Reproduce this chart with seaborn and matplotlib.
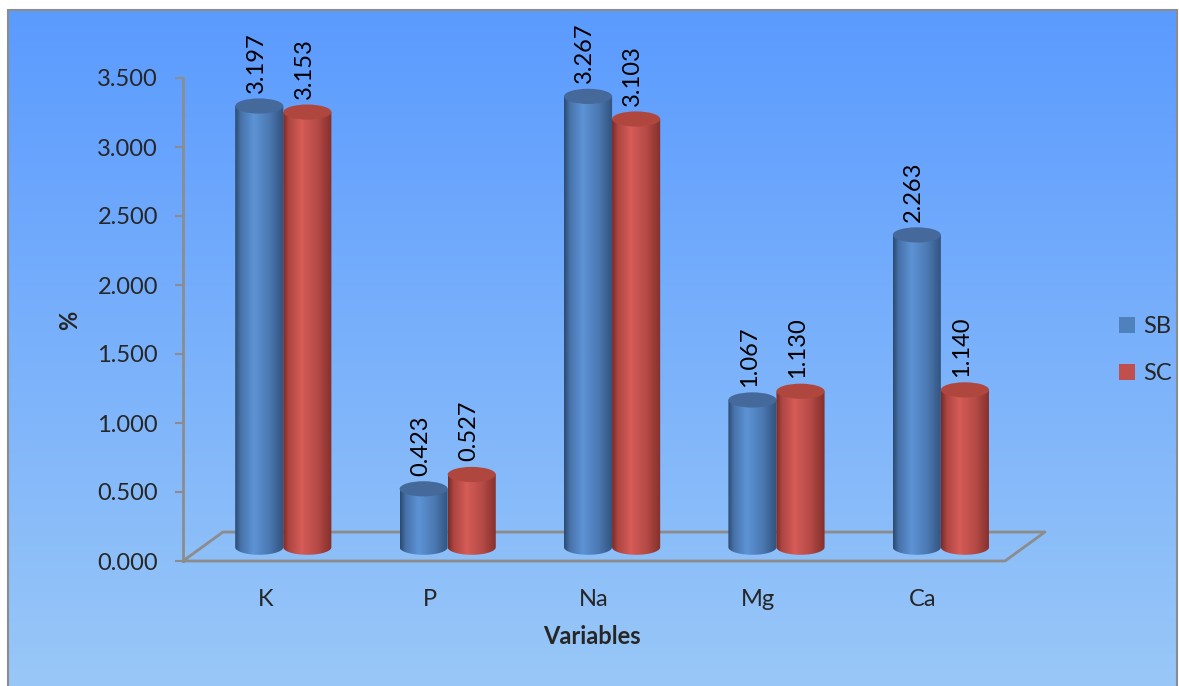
import numpy as np
import pandas as pd
import matplotlib
matplotlib.use('Agg')
import matplotlib.pyplot as plt
import seaborn as sns
from matplotlib.patches import Ellipse, PathPatch, Rectangle, Patch
from matplotlib.path import Path

# Data
categories = ['K', 'P', 'Na', 'Mg', 'Ca']
series = ['SB', 'SC']
sb_values = [3.197, 0.423, 3.267, 1.067, 2.263]
sc_values = [3.153, 0.527, 3.103, 1.130, 1.140]
y_ticks = [0.0, 0.5, 1.0, 1.5, 2.0, 2.5, 3.0, 3.5]

df = pd.DataFrame({
    'Variables': categories * 2,
    'value': sb_values + sc_values,
    'Series': ['SB'] * len(categories) + ['SC'] * len(categories),
})

base_colors = {'SB': '#4F81BD', 'SC': '#C0504D'}
# dark / light / top colours for the cylinder shading
shade = {
    'SB': ('#2c4a72', '#5d93d6', '#44699a'),
    'SC': ('#7a2a27', '#d65c57', '#b0473f'),
}

sns.set_style('white')
plt.rcParams['font.family'] = ['Lato', 'DejaVu Sans']
FS = 17

fig = plt.figure(figsize=(11.79, 6.86), dpi=100)
fig.patch.set_facecolor('white')

# chart area gradient background
bg = fig.add_axes([0, 0, 1, 1], zorder=-10)
g = np.linspace(0, 1, 256)[:, None, None]
top_c = np.array([0x5b, 0x9b, 0xff]) / 255
bot_c = np.array([0x9a, 0xc8, 0xf7]) / 255
img = top_c * (1 - g) + bot_c * g
x0, x1 = 8 / 1179, 1177 / 1179
y1 = 1 - 10 / 686
bg.imshow(img, aspect='auto', extent=[x0, x1, -0.02, y1], origin='upper')
bg.add_patch(Rectangle((x0, -0.02), x1 - x0, y1 + 0.02, fill=False,
                       edgecolor='#8c8c8c', lw=1.5))
bg.set_xlim(0, 1)
bg.set_ylim(0, 1)
bg.axis('off')

ax = fig.add_axes([183 / 1179, 125 / 686, 822 / 1179, 483 / 686])
ax.patch.set_alpha(0)

sns.barplot(data=df, x='Variables', y='value', hue='Series',
            palette=base_colors, width=0.585, gap=0, saturation=1,
            linewidth=0, legend=False, ax=ax)

# 3D-ish offsets (depth)
dx, dy = 0.11, 0.1
eh = 0.11  # ellipse height in data units
ddx, ddy = 0.243, 0.21

# floor parallelogram
floor_c = '#8c8c8c'
fx = [-0.5, 4.5, 4.5 + ddx, -0.5 + ddx, -0.5]
fy = [0, 0, ddy, ddy, 0]
ax.plot(fx, fy, color=floor_c, lw=2, zorder=1, clip_on=False)

t = np.linspace(0, 1, 200)
mix = np.interp(t, [0, 0.12, 0.38, 0.7, 1.0], [0.0, 0.55, 1.0, 0.65, 0.1])

bars = ax.patches[:]
n = len(categories)
for i, p in enumerate(bars):
    s = series[i // n]
    cat = i % n
    val = p.get_height()
    xl = p.get_x() + dx
    w = p.get_width()
    base = dy
    top = base + val
    p.set_visible(False)
    z = 3 + cat * 4 + (i // n) * 2

    dark = np.array(matplotlib.colors.to_rgb(shade[s][0]))
    light = np.array(matplotlib.colors.to_rgb(shade[s][1]))
    row = dark + (light - dark) * mix[:, None]
    grad = row[None, :, :]

    th = np.linspace(np.pi, 2 * np.pi, 60)
    ex = xl + w / 2 + (w / 2) * np.cos(th)
    ey = base + (eh / 2) * np.sin(th)
    verts = [(xl, top)] + list(zip(ex, ey)) + [(xl + w, top), (xl, top)]
    codes = [Path.MOVETO] + [Path.LINETO] * (len(verts) - 2) + [Path.CLOSEPOLY]
    body = PathPatch(Path(verts, codes), transform=ax.transData,
                     facecolor='none', edgecolor='none')
    im = ax.imshow(grad, aspect='auto', extent=[xl, xl + w, base - eh, top],
                   zorder=z, interpolation='bilinear')
    im.set_clip_path(body)

    ax.add_patch(Ellipse((xl + w / 2, top), w, eh, facecolor=shade[s][2],
                         edgecolor='none', zorder=z + 1))

    ax.text(xl + w / 2 - 0.02, top + eh / 2 + 0.04, f'{val:.3f}',
            rotation=90, ha='center', va='bottom', fontsize=FS,
            color='black', zorder=30, clip_on=False)

ax.set_xlim(-0.5, 4.5)
ax.set_ylim(0, 3.5)
ax.set_yticks(y_ticks)
ax.set_yticklabels([f'{v:.3f}' for v in y_ticks], fontsize=FS)
ax.set_xticks(range(n))
ax.set_xticklabels(categories, fontsize=FS)
ax.tick_params(axis='x', length=0, pad=20)
ax.tick_params(axis='y', length=6, width=1.5, color=floor_c, pad=12, left=True)

for sp in ['top', 'right', 'bottom']:
    ax.spines[sp].set_visible(False)
ax.spines['left'].set_color(floor_c)
ax.spines['left'].set_linewidth(2)

ax.set_xlabel('Variables', fontsize=FS, fontweight='bold')
ax.xaxis.set_label_coords((592 - 183) / 822, (561 - 625) / 483)
ax.set_ylabel('%', fontsize=FS, fontweight='bold')
ax.yaxis.set_label_coords((81 - 183) / 822, (561 - 320) / 483)

handles = [Patch(facecolor=base_colors[s], edgecolor='none') for s in series]
fig.legend(handles, series, loc='center left',
           bbox_to_anchor=(1098 / 1179, 1 - 350 / 686), frameon=False,
           fontsize=FS, handlelength=0.65, handleheight=0.65,
           handletextpad=0.35, labelspacing=1.1)

fig.savefig('out.png', dpi=100)
